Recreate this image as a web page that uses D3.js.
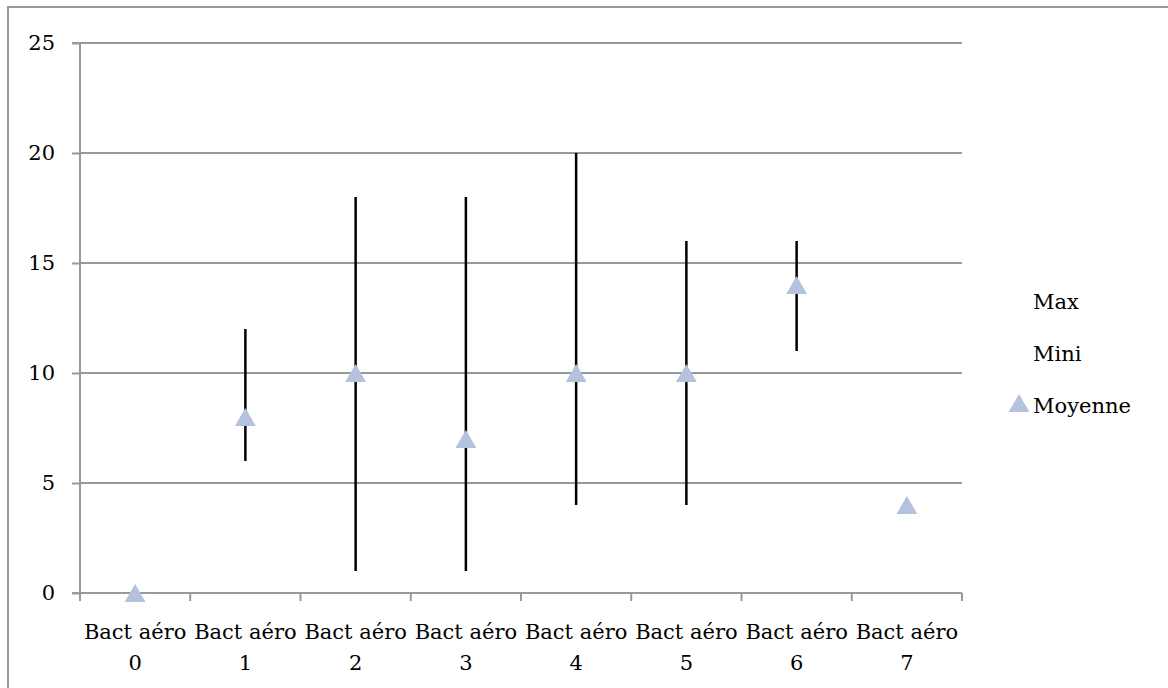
<!DOCTYPE html>
<html><head><meta charset="utf-8">
<script src="https://cdn.jsdelivr.net/npm/d3@7"></script>
<style>body{margin:0;background:#fff;} text{font-family:"DejaVu Serif",serif;}</style>
</head><body><svg id="c" width="1168" height="688"></svg>
<script>
const categories = ["Bact aéro 0","Bact aéro 1","Bact aéro 2","Bact aéro 3","Bact aéro 4","Bact aéro 5","Bact aéro 6","Bact aéro 7"];
const maxValues = [0, 12, 18, 18, 20, 16, 16, 4];
const minValues = [0, 6, 1, 1, 4, 4, 11, 4];
const meanValues = [0, 8, 10, 7, 10, 10, 14, 4];
const yTicks = [0, 5, 10, 15, 20, 25];
const legendLabels = ["Max", "Mini", "Moyenne"];

const FONT = "DejaVu Serif", FS = 21;
const svg = d3.select("#c");
svg.append("rect").attr("x",8).attr("y",7).attr("width",1200).attr("height",720)
  .attr("fill","#fff").attr("stroke","#999").attr("stroke-width",2);

const L=80, R=962, T=43, B=593;
const x = d3.scaleBand().domain(categories).range([L,R]).padding(0);
const y = d3.scaleLinear().domain([0,25]).range([B,T]);

// gridlines
svg.append("g").selectAll("line").data(yTicks.filter(d=>d>0)).join("line")
  .attr("x1",L).attr("x2",R).attr("y1",d=>y(d)).attr("y2",d=>y(d))
  .attr("stroke","#999").attr("stroke-width",2);

// y axis
const ya = svg.append("g").attr("transform",`translate(${L},0)`)
  .call(d3.axisLeft(y).tickValues(yTicks).tickSize(8).tickPadding(17));
ya.select(".domain").attr("stroke","#999").attr("stroke-width",2).attr("d",`M-8,${T}H0V${B}`);
ya.selectAll(".tick line").attr("stroke","#999").attr("stroke-width",2);
ya.selectAll(".tick text").attr("font-size",FS).attr("fill","#000").attr("font-family",FONT);

// x axis
const xa = svg.append("g").attr("transform",`translate(0,${B})`);
xa.append("line").attr("x1",L-8).attr("x2",R).attr("y1",0).attr("y2",0).attr("stroke","#999").attr("stroke-width",2);
const bounds = categories.map(c=>x(c)).concat([R]);
xa.selectAll("line.t").data(bounds).join("line").attr("class","t")
  .attr("x1",d=>d).attr("x2",d=>d).attr("y1",0).attr("y2",8).attr("stroke","#999").attr("stroke-width",2);
const lab = xa.selectAll("text.l").data(categories).join("text").attr("class","l")
  .attr("x",d=>x(d)+x.bandwidth()/2).attr("text-anchor","middle")
  .attr("font-size",FS).attr("font-family",FONT).attr("fill","#000");
lab.append("tspan").attr("x",d=>x(d)+x.bandwidth()/2).attr("y",46).text(d=>d.replace(/ \d+$/,""));
lab.append("tspan").attr("x",d=>x(d)+x.bandwidth()/2).attr("y",77).text(d=>d.match(/\d+$/)[0]);

// high-low lines
svg.append("g").selectAll("line").data(categories.map((c,i)=>({c,hi:maxValues[i],lo:minValues[i]})).filter(d=>d.hi!==d.lo))
  .join("line").attr("x1",d=>x(d.c)+x.bandwidth()/2).attr("x2",d=>x(d.c)+x.bandwidth()/2)
  .attr("y1",d=>y(d.hi)).attr("y2",d=>y(d.lo)).attr("stroke","#000").attr("stroke-width",2.5);

// mean triangles
const tri = d3.symbol().type(d3.symbolTriangle).size(190);
svg.append("g").selectAll("path").data(categories.map((c,i)=>({c,v:meanValues[i]})))
  .join("path").attr("d",tri)
  .attr("transform",d=>`translate(${x(d.c)+x.bandwidth()/2},${y(d.v)+3})`)
  .attr("fill","#b3c2dd");

// legend
const lg = svg.append("g");
lg.selectAll("text").data(legendLabels).join("text")
  .attr("x",1033).attr("y",(d,i)=>309+i*52).attr("font-size",FS).attr("font-family",FONT).attr("fill","#000").text(d=>d);
lg.append("path").attr("d",tri).attr("transform","translate(1019,406)").attr("fill","#b3c2dd");
</script></body></html>
